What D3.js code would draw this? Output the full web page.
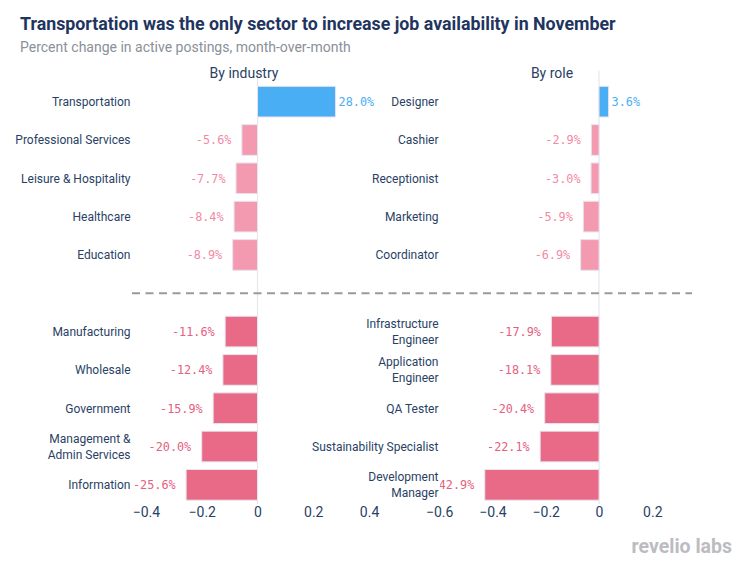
<!DOCTYPE html>
<html>
<head>
<meta charset="utf-8">
<script src="https://cdn.jsdelivr.net/npm/d3@7"></script>
<style>
  html, body { margin: 0; padding: 0; background: #fff; }
  svg { display: block; }
</style>
</head>
<body>
<svg id="chart" width="751" height="563"></svg>
<script>
// ---- data ----
const industries = ["Transportation", "Professional Services", "Leisure & Hospitality", "Healthcare", "Education", "",
  "Manufacturing", "Wholesale", "Government", "Management &\nAdmin Services", "Information"];
const industryValues = [0.280, -0.056, -0.077, -0.084, -0.089, null, -0.116, -0.124, -0.159, -0.200, -0.256];

const roles = ["Designer", "Cashier", "Receptionist", "Marketing", "Coordinator", "",
  "Infrastructure\nEngineer", "Application\nEngineer", "QA Tester", "Sustainability Specialist", "Development\nManager"];
const roleValues = [0.036, -0.029, -0.030, -0.059, -0.069, null, -0.179, -0.181, -0.204, -0.221, -0.429];

const industryTicks = [-0.4, -0.2, 0, 0.2, 0.4];
const roleTicks = [-0.6, -0.4, -0.2, 0, 0.2];

const chartTitle = "Transportation was the only sector to increase job availability in November";
const chartSubtitle = "Percent change in active postings, month-over-month";

// ---- styles ----
const navy = "#2a3f66";
const colBlue = "#4aaef5", colLight = "#f49ab0", colDark = "#e86a87";
const txtBlue = "#4aaef5", txtLight = "#f28aa5", txtDark = "#e6607f";
const barColor = v => v >= 0 ? colBlue : (v > -0.1 ? colLight : colDark);
const txtColor = v => v >= 0 ? txtBlue : (v > -0.1 ? txtLight : txtDark);

const svg = d3.select("#chart");
const plotTop = 82.5, plotBottom = 504;

svg.append("text").attr("x", 20).attr("y", 30)
  .attr("font-family", "Roboto, sans-serif").attr("font-weight", 700).attr("font-size", 17.8)
  .attr("fill", "#1f3560").text(chartTitle);
svg.append("text").attr("x", 20).attr("y", 52)
  .attr("font-family", "Roboto, sans-serif").attr("font-size", 14)
  .attr("fill", "#8a9099").text(chartSubtitle);

function panel(id, cats, vals, ticks, x0, x1, domain, heading, headX) {
  const x = d3.scaleLinear().domain(domain).range([x0, x1]);
  const y = d3.scaleBand().domain(d3.range(cats.length)).range([plotTop, plotBottom])
    .paddingInner(0.2).paddingOuter(0.1);
  const g = svg.append("g");

  svg.append("clipPath").attr("id", "clip" + id)
    .append("rect").attr("x", x0).attr("y", plotTop - 5).attr("width", x1 - x0).attr("height", plotBottom - plotTop + 10);

  // zero line
  g.append("line").attr("x1", x(0)).attr("x2", x(0)).attr("y1", plotTop - 12).attr("y2", plotBottom)
    .attr("stroke", "#e4e7f0").attr("stroke-width", 1.2);

  // heading
  g.append("text").attr("x", headX).attr("y", 78).attr("text-anchor", "middle")
    .attr("font-family", "Roboto, sans-serif").attr("font-size", 14).attr("fill", navy).text(heading);

  const idx = d3.range(cats.length).filter(i => vals[i] !== null);

  // bars
  g.selectAll("rect.bar").data(idx).join("rect").attr("class", "bar")
    .attr("x", i => Math.min(x(0), x(vals[i])))
    .attr("width", i => Math.abs(x(vals[i]) - x(0)))
    .attr("y", i => y(i)).attr("height", y.bandwidth())
    .attr("fill", i => barColor(vals[i]))
    .attr("stroke", "#e9e3ee").attr("stroke-width", 1);

  // value labels (clipped to the plot area)
  g.append("g").attr("clip-path", "url(#clip" + id + ")")
    .selectAll("text").data(idx).join("text")
    .attr("x", i => vals[i] >= 0 ? x(vals[i]) + 3 : x(vals[i]) - 10.5)
    .attr("y", i => y(i) + y.bandwidth() / 2 + 4.5)
    .attr("text-anchor", i => vals[i] >= 0 ? "start" : "end")
    .attr("font-family", "'DejaVu Sans Mono', monospace").attr("font-size", 11.8)
    .attr("fill", i => txtColor(vals[i]))
    .text(i => (vals[i] * 100).toFixed(1) + "%");

  // category labels
  const lab = g.selectAll("text.cat").data(idx).join("text").attr("class", "cat")
    .attr("text-anchor", "end")
    .attr("font-family", "Roboto, sans-serif").attr("font-size", 12).attr("fill", navy);
  lab.each(function (i) {
    const lines = cats[i].split("\n");
    const cy = y(i) + y.bandwidth() / 2;
    const t = d3.select(this);
    lines.forEach((ln, k) => {
      t.append("tspan").attr("x", x0 - 1.5)
        .attr("y", cy + 4.3 + (k - (lines.length - 1) / 2) * 15.6).text(ln);
    });
  });

  // x axis tick labels
  const axis = d3.axisBottom(x).tickValues(ticks).tickSize(0).tickPadding(0)
    .tickFormat(d => d === 0 ? "0" : d3.format(".1f")(d).replace("-", "\u2212"));
  const ag = svg.append("g").attr("transform", `translate(0,${plotBottom})`).call(axis);
  ag.select(".domain").remove();
  ag.selectAll("text").attr("font-family", "Roboto, sans-serif").attr("font-size", 14)
    .attr("fill", navy).attr("dy", "0.95em");
  return { x, y };
}

const L = panel("L", industries, industryValues, industryTicks, 132, 383, [-0.45, 0.45], "By industry", 244);
const R = panel("R", roles, roleValues, roleTicks, 440, 692, [-0.597, 0.349], "By role", 552);

// dashed separator at the empty slot
const sepY = L.y(5) + L.y.bandwidth() / 2;
svg.append("line").attr("x1", 132).attr("x2", 692).attr("y1", sepY).attr("y2", sepY)
  .attr("stroke", "#9a9a9a").attr("stroke-width", 2).attr("stroke-dasharray", "8,5.5");

// logo
svg.append("text").attr("x", 732).attr("y", 553).attr("text-anchor", "end")
  .attr("font-family", "Roboto, sans-serif").attr("font-weight", 700).attr("font-size", 19.5)
  .attr("fill", "#bcbcc0").text("revelio labs");
</script>
</body>
</html>
